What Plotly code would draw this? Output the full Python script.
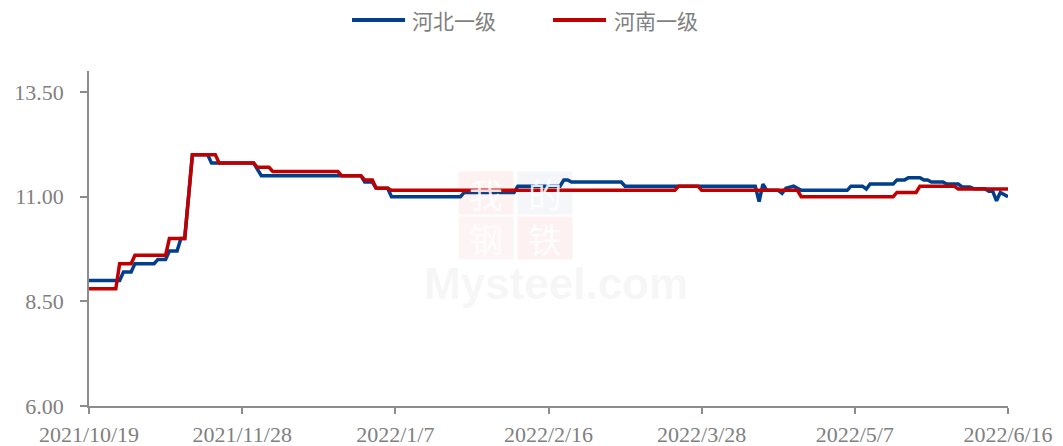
import plotly.graph_objects as go

# ---- data ----
hebei_dates = [
    "2021-10-19", "2021-10-27", "2021-10-28", "2021-10-30", "2021-10-31", "2021-11-05",
    "2021-11-06", "2021-11-08", "2021-11-09", "2021-11-11", "2021-11-12", "2021-11-13",
    "2021-11-15", "2021-11-19", "2021-11-20", "2021-12-01", "2021-12-03", "2021-12-29",
    "2021-12-30", "2022-01-01", "2022-01-02", "2022-01-05", "2022-01-06", "2022-01-24",
    "2022-01-25", "2022-02-07", "2022-02-08", "2022-02-19", "2022-02-20", "2022-02-21",
    "2022-02-22", "2022-03-07", "2022-03-08", "2022-04-11", "2022-04-12", "2022-04-13",
    "2022-04-14", "2022-04-17", "2022-04-18", "2022-04-19", "2022-04-21", "2022-04-23",
    "2022-05-05", "2022-05-06", "2022-05-09", "2022-05-10", "2022-05-11", "2022-05-17",
    "2022-05-18", "2022-05-20", "2022-05-21", "2022-05-24", "2022-05-25", "2022-05-26",
    "2022-05-27", "2022-05-30", "2022-05-31", "2022-06-03", "2022-06-04", "2022-06-06",
    "2022-06-07", "2022-06-10", "2022-06-11", "2022-06-12", "2022-06-13", "2022-06-14",
    "2022-06-16",
]
hebei_values = [
    9.0, 9.0, 9.2, 9.2, 9.4, 9.4,
    9.5, 9.5, 9.7, 9.7, 10.0, 10.0,
    12.0, 12.0, 11.8, 11.8, 11.5, 11.5,
    11.35, 11.35, 11.2, 11.2, 11.0, 11.0,
    11.1, 11.1, 11.25, 11.25, 11.4, 11.4,
    11.35, 11.35, 11.25, 11.25, 10.88, 11.3,
    11.15, 11.15, 11.08, 11.2, 11.25, 11.15,
    11.15, 11.25, 11.25, 11.18, 11.3, 11.3,
    11.4, 11.4, 11.45, 11.45, 11.4, 11.4,
    11.35, 11.35, 11.3, 11.3, 11.23, 11.23,
    11.19, 11.19, 11.13, 11.13, 10.9, 11.1,
    11.0,
]

henan_dates = [
    "2021-10-19", "2021-10-26", "2021-10-27", "2021-10-30", "2021-10-31", "2021-11-08",
    "2021-11-09", "2021-11-13", "2021-11-15", "2021-11-21", "2021-11-22", "2021-12-01",
    "2021-12-02", "2021-12-05", "2021-12-06", "2021-12-23", "2021-12-24", "2021-12-29",
    "2021-12-30", "2022-01-01", "2022-01-02", "2022-01-05", "2022-01-06", "2022-03-21",
    "2022-03-22", "2022-03-27", "2022-03-28", "2022-04-22", "2022-04-23", "2022-05-17",
    "2022-05-18", "2022-05-23", "2022-05-24", "2022-06-02", "2022-06-03", "2022-06-16",
]
henan_values = [
    8.8, 8.8, 9.4, 9.4, 9.6, 9.6,
    10.0, 10.0, 12.0, 12.0, 11.8, 11.8,
    11.7, 11.7, 11.6, 11.6, 11.5, 11.5,
    11.4, 11.4, 11.2, 11.2, 11.15, 11.15,
    11.25, 11.25, 11.15, 11.15, 11.0, 11.0,
    11.1, 11.1, 11.25, 11.25, 11.18, 11.18,
]

series_names = ["河北一级", "河南一级"]
x_tick_dates = ["2021-10-19", "2021-11-28", "2022-01-07", "2022-02-16",
                "2022-03-28", "2022-05-07", "2022-06-16"]
x_tick_labels = ["2021/10/19", "2021/11/28", "2022/1/7", "2022/2/16",
                 "2022/3/28", "2022/5/7", "2022/6/16"]
y_ticks = [6.0, 8.5, 11.0, 13.5]

# ---- figure ----
BLUE = "#003F8C"
RED = "#C00000"
GRAY = "#808080"
AXIS = "#8C8C8C"
colors = [BLUE, RED]

fig = go.Figure()
fig.add_trace(go.Scatter(x=hebei_dates, y=hebei_values, mode="lines",
                         name=series_names[0],
                         line=dict(color=BLUE, width=3.5)))
fig.add_trace(go.Scatter(x=henan_dates, y=henan_values, mode="lines",
                         name=series_names[1],
                         line=dict(color=RED, width=3.5)))

# custom legend at the top (line sample + label)
leg_y = 1.152
leg_items = [(0.2862, 0.3439, 0.3493), (0.5049, 0.5626, 0.5691)]
for (x0, x1, xt), name, col in zip(leg_items, series_names, colors):
    fig.add_shape(type="line", xref="paper", yref="paper", x0=x0, x1=x1,
                  y0=leg_y, y1=leg_y, line=dict(color=col, width=4))
    fig.add_annotation(xref="paper", yref="paper", x=xt, y=leg_y, text=name,
                       xanchor="left", yanchor="middle", showarrow=False,
                       font=dict(family="Noto Sans CJK SC", size=21, color=GRAY))

# faint watermark
fig.add_annotation(xref="paper", yref="paper", x=0.508, y=0.365,
                   text="<b>Mysteel.com</b>", showarrow=False,
                   font=dict(family="Arial, Liberation Sans", size=44,
                             color="rgba(200,200,200,0.16)"))
for ch, xx, yy, col in [("我", 0.432, 0.637, "rgba(220,60,60,0.07)"),
                        ("的", 0.496, 0.637, "rgba(60,80,150,0.05)"),
                        ("钢", 0.432, 0.502, "rgba(220,60,60,0.05)"),
                        ("铁", 0.496, 0.502, "rgba(220,60,60,0.07)")]:
    fig.add_annotation(xref="paper", yref="paper", x=xx, y=yy, text=ch,
                       showarrow=False, bgcolor=col, width=52, height=40,
                       font=dict(family="Noto Sans CJK SC", size=34,
                                 color="rgba(255,255,255,0.9)"))

# the page body has an 8px default margin: size the figure to fit the window
fig.update_layout(
    width=1055, height=438,
    margin=dict(l=81, r=55, t=63, b=40, autoexpand=False),
    plot_bgcolor="white", paper_bgcolor="white",
    font=dict(family="Liberation Serif, Times New Roman, serif", color=GRAY, size=22),
    showlegend=False,
    xaxis=dict(type="date", range=["2021-10-19", "2022-06-16"],
               tickvals=x_tick_dates, ticktext=x_tick_labels,
               showgrid=False, zeroline=False, automargin=False,
               showline=True, linecolor=AXIS, linewidth=1.5,
               ticks="outside", ticklen=6, tickcolor=AXIS, tickwidth=1.5,
               tickfont=dict(size=22, color=GRAY), ticklabelstandoff=2),
    yaxis=dict(range=[6, 14], tickvals=y_ticks, tickformat=".2f",
               showgrid=False, zeroline=False, automargin=False,
               showline=True, linecolor=AXIS, linewidth=1.5,
               ticks="outside", ticklen=7, tickcolor=AXIS, tickwidth=1.5,
               tickfont=dict(size=22, color=GRAY), ticklabelstandoff=12),
)

fig.write_html("out.html")
